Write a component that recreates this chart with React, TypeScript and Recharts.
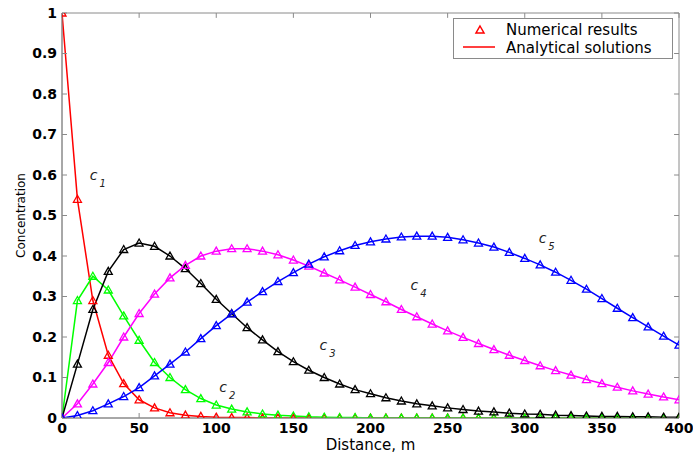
import React from 'react';
import { LineChart, Line, XAxis, YAxis, Legend, ReferenceDot, ReferenceArea, ReferenceLine } from 'recharts';

const DISTANCE = [
  0, 10, 20, 30, 40, 50, 60, 70, 80, 90, 100, 110, 120, 130, 140, 150, 160, 170, 180, 190, 200,
  210, 220, 230, 240, 250, 260, 270, 280, 290, 300, 310, 320, 330, 340, 350, 360, 370, 380, 390, 400,
];

const C1 = [
  1, 0.54, 0.29, 0.155, 0.085, 0.045, 0.025, 0.013, 0.007, 0.004, 0.002, 0.001, 0.001, 0, 0, 0, 0, 0, 0, 0, 0,
  0, 0, 0, 0, 0, 0, 0, 0, 0, 0, 0, 0, 0, 0, 0, 0, 0, 0, 0, 0,
];
const C2 = [
  0, 0.29, 0.35, 0.316, 0.252, 0.192, 0.137, 0.1, 0.07, 0.048, 0.032, 0.022, 0.015, 0.01, 0.007, 0.005, 0.003, 0.002, 0.001, 0.001, 0,
  0, 0, 0, 0, 0, 0, 0, 0, 0, 0, 0, 0, 0, 0, 0, 0, 0, 0, 0, 0,
];
const C3 = [
  0, 0.133, 0.268, 0.362, 0.416, 0.432, 0.424, 0.4, 0.369, 0.332, 0.293, 0.258, 0.223, 0.193, 0.164, 0.139, 0.118, 0.1, 0.084, 0.07, 0.06,
  0.05, 0.042, 0.035, 0.03, 0.025, 0.021, 0.017, 0.015, 0.012, 0.01, 0.009, 0.007, 0.006, 0.005, 0.004, 0.004, 0.003, 0.003, 0.002, 0.002,
];
const C4 = [
  0, 0.035, 0.084, 0.137, 0.2, 0.258, 0.306, 0.346, 0.377, 0.4, 0.412, 0.418, 0.418, 0.412, 0.403, 0.39, 0.375, 0.358, 0.341, 0.323, 0.305,
  0.287, 0.268, 0.25, 0.232, 0.215, 0.199, 0.184, 0.169, 0.155, 0.142, 0.129, 0.117, 0.106, 0.095, 0.085, 0.076, 0.067, 0.059, 0.052, 0.045,
];
const C5 = [
  0, 0.006, 0.018, 0.035, 0.053, 0.075, 0.104, 0.133, 0.163, 0.196, 0.228, 0.257, 0.286, 0.312, 0.337, 0.359, 0.38, 0.398, 0.413, 0.426, 0.435,
  0.442, 0.447, 0.449, 0.449, 0.446, 0.44, 0.432, 0.422, 0.409, 0.394, 0.378, 0.36, 0.34, 0.318, 0.295, 0.271, 0.248, 0.225, 0.202, 0.18,
];

const X_TICKS = [0, 50, 100, 150, 200, 250, 300, 350, 400];
const Y_TICKS = [0, 0.1, 0.2, 0.3, 0.4, 0.5, 0.6, 0.7, 0.8, 0.9, 1];

const SERIES = [
  { key: 'c1', color: '#ff0000', values: C1 },
  { key: 'c2', color: '#00ff00', values: C2 },
  { key: 'c3', color: '#000000', values: C3 },
  { key: 'c4', color: '#ff00ff', values: C4 },
  { key: 'c5', color: '#0000ff', values: C5 },
];

// curve labels, in data units (x, y of the "c" baseline)
const CURVE_LABELS = [
  { sub: '1', x: 18, y: 0.588 },
  { sub: '2', x: 102, y: 0.064 },
  { sub: '3', x: 167, y: 0.168 },
  { sub: '4', x: 226, y: 0.316 },
  { sub: '5', x: 309, y: 0.432 },
];

const data = DISTANCE.map((x, i) => {
  const row: Record<string, number> = { x };
  SERIES.forEach((s) => {
    row[s.key] = s.values[i];
  });
  return row;
});

const FONT = 'DejaVu Sans, sans-serif';
const AXIS_GRAY = '#8a8a8a';
const X_MIN = 0;
const X_MAX = 400;
const Y_MIN = 0;
const Y_MAX = 1;
// inward tick length on the top / right frame, in data units (~5px)
const TICK_DX = 3.2;
const TICK_DY = 0.012;

const Triangle = (props: any) => {
  const { cx, cy, stroke } = props;
  if (cx == null || cy == null) return null;
  return (
    <path
      d={`M${cx},${cy - 4} L${cx + 4},${cy + 3} L${cx - 4},${cy + 3} Z`}
      fill="none"
      stroke={stroke}
      strokeWidth={1.3}
    />
  );
};

const CurveLabel = (sub: string) => (props: any) => {
  const { cx, cy } = props;
  return (
    <text x={cx} y={cy} fontFamily={FONT} fontStyle="italic" fontSize={14} fill="#222">
      <tspan>c</tspan>
      <tspan dx={2} dy={7} fontSize={10}>
        {sub}
      </tspan>
    </text>
  );
};

const LegendBox = () => (
  <svg width={220} height={41} style={{ display: 'block' }}>
    <rect x={0.5} y={0.5} width={219} height={40} fill="#fff" stroke={AXIS_GRAY} />
    <path d="M27,8 L31,15 L23,15 Z" fill="none" stroke="#ff0000" strokeWidth={1.5} />
    <text x={53} y={17} fontFamily={FONT} fontSize={15} fill="#000">
      Numerical results
    </text>
    <line x1={10} y1={29} x2={42} y2={29} stroke="#ff0000" strokeWidth={1.5} />
    <text x={53} y={35} fontFamily={FONT} fontSize={15} fill="#000">
      Analytical solutions
    </text>
  </svg>
);

export default function App() {
  const tickStyle = { fontFamily: FONT, fontSize: 14, fontWeight: 'bold', fill: '#000' };
  return (
    <div style={{ position: 'absolute', left: 0, top: 0, background: '#fff' }}>
      <LineChart width={693} height={457} data={data} margin={{ top: 13, right: 14, bottom: 3, left: 0 }}>
        <XAxis
          dataKey="x"
          type="number"
          domain={[X_MIN, X_MAX]}
          ticks={X_TICKS}
          allowDataOverflow
          height={36}
          tickSize={-5}
          tickMargin={10}
          tick={tickStyle}
          stroke={AXIS_GRAY}
          label={{ value: 'Distance, m', position: 'insideBottom', offset: 4, style: { fontFamily: FONT, fontSize: 15, fill: '#000' } }}
        />
        <YAxis
          type="number"
          domain={[Y_MIN, Y_MAX]}
          ticks={Y_TICKS}
          allowDataOverflow
          width={62}
          tickSize={-5}
          tickMargin={10}
          tick={tickStyle}
          stroke={AXIS_GRAY}
          label={{ value: 'Concentration', angle: -90, position: 'center', dx: -10, style: { fontFamily: FONT, fontSize: 12, fill: '#000' } }}
        />
        {/* plot frame: edges sit on the domain limits, so keep them from being discarded */}
        <ReferenceArea
          x1={X_MIN}
          x2={X_MAX}
          y1={Y_MIN}
          y2={Y_MAX}
          ifOverflow="visible"
          fill="none"
          fillOpacity={0}
          stroke={AXIS_GRAY}
          strokeOpacity={1}
        />
        {X_TICKS.map((t) => (
          <ReferenceLine
            key={`xt${t}`}
            ifOverflow="visible"
            segment={[{ x: t, y: Y_MAX }, { x: t, y: Y_MAX - TICK_DY }]}
            stroke={AXIS_GRAY}
          />
        ))}
        {Y_TICKS.map((t) => (
          <ReferenceLine
            key={`yt${t}`}
            ifOverflow="visible"
            segment={[{ x: X_MAX, y: t }, { x: X_MAX - TICK_DX, y: t }]}
            stroke={AXIS_GRAY}
          />
        ))}
        {SERIES.map((s) => (
          <Line
            key={s.key}
            dataKey={s.key}
            stroke={s.color}
            strokeWidth={1.5}
            dot={<Triangle />}
            activeDot={false}
            isAnimationActive={false}
          />
        ))}
        {CURVE_LABELS.map((l) => (
          <ReferenceDot key={l.sub} x={l.x} y={l.y} r={0} shape={CurveLabel(l.sub)} />
        ))}
        <Legend
          layout="horizontal"
          verticalAlign="middle"
          align="center"
          content={() => <LegendBox />}
          wrapperStyle={{ left: 453, top: 18, width: 220, height: 41 }}
        />
      </LineChart>
    </div>
  );
}
